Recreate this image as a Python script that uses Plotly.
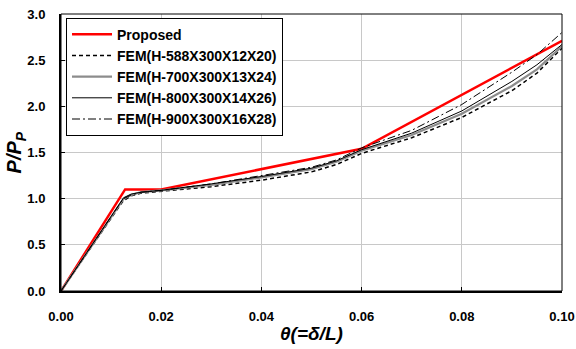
import plotly.graph_objects as go

# Data
theta = [0, 0.006, 0.0118, 0.0125, 0.014, 0.016, 0.02, 0.03, 0.04, 0.05, 0.055, 0.06,
         0.07, 0.08, 0.09, 0.095, 0.1]
prop_x = [0, 0.0128, 0.02, 0.06, 0.1]
prop_y = [0, 1.10, 1.10, 1.54, 2.71]
fem588 = [0, 0.48, 0.93, 0.98, 1.03, 1.06, 1.08, 1.13, 1.20, 1.29, 1.37, 1.49,
          1.66, 1.88, 2.17, 2.36, 2.63]
fem700 = [0, 0.48, 0.95, 1.00, 1.04, 1.07, 1.09, 1.15, 1.23, 1.32, 1.40, 1.52,
          1.69, 1.92, 2.22, 2.40, 2.65]
fem800 = [0, 0.49, 0.96, 1.01, 1.05, 1.07, 1.09, 1.16, 1.24, 1.33, 1.41, 1.53,
          1.71, 1.95, 2.27, 2.45, 2.67]
fem900 = [0, 0.49, 0.95, 1.00, 1.04, 1.07, 1.09, 1.16, 1.25, 1.34, 1.42, 1.55,
          1.74, 2.02, 2.37, 2.56, 2.80]
names = ["Proposed", "FEM(H-588X300X12X20)", "FEM(H-700X300X13X24)",
         "FEM(H-800X300X14X26)", "FEM(H-900X300X16X28)"]
x_ticks = [0, 0.02, 0.04, 0.06, 0.08, 0.10]
x_labels = ["0.00", "0.02", "0.04", "0.06", "0.08", "0.10"]
y_ticks = [0, 0.5, 1.0, 1.5, 2.0, 2.5, 3.0]
y_labels = ["0.0", "0.5", "1.0", "1.5", "2.0", "2.5", "3.0"]
x_title = "<b><i>θ(=δ/L)</i></b>"
y_title = "<b><i>P/P<sub>P</sub></i></b>"

fig = go.Figure()
fig.add_trace(go.Scatter(x=prop_x, y=prop_y, mode="lines", name=names[0],
                         line=dict(color="#ff0000", width=2.5)))
fig.add_trace(go.Scatter(x=theta, y=fem588, mode="lines", name=names[1],
                         line=dict(color="black", width=1.5, dash="4px,3px")))
fig.add_trace(go.Scatter(x=theta, y=fem700, mode="lines", name=names[2],
                         line=dict(color="#8c8c8c", width=2.2)))
fig.add_trace(go.Scatter(x=theta, y=fem800, mode="lines", name=names[3],
                         line=dict(color="black", width=1)))
fig.add_trace(go.Scatter(x=theta, y=fem900, mode="lines", name=names[4],
                         line=dict(color="black", width=1, dash="8px,3px,2px,3px")))

fig.update_layout(
    width=576, height=349,
    margin=dict(l=61, r=14, t=14, b=58, autoexpand=False),
    paper_bgcolor="white", plot_bgcolor="white",
    font=dict(family="Liberation Sans, Arial", size=13, color="black"),
    legend=dict(x=0.01, y=0.987, xanchor="left", yanchor="top",
                bgcolor="white", bordercolor="black", borderwidth=1,
                font=dict(size=14, family="Liberation Sans, Arial", weight="bold"),
                tracegroupgap=0, itemwidth=40),
    xaxis=dict(range=[0, 0.1], tickvals=x_ticks, ticktext=x_labels,
               showgrid=True, gridcolor="#c8c8c8", gridwidth=1,
               showline=True, linecolor="black", linewidth=2,
               ticks="inside", ticklen=4, tickcolor="black", zeroline=False,
               tickfont=dict(size=13, weight="bold"), ticklabelstandoff=12,
               automargin=False),
    yaxis=dict(range=[0, 3.0], tickvals=y_ticks, ticktext=y_labels,
               showgrid=True, gridcolor="#c8c8c8", gridwidth=1,
               showline=True, linecolor="black", linewidth=2,
               ticks="inside", ticklen=4, tickcolor="black", zeroline=False,
               tickfont=dict(size=13, weight="bold"), ticklabelstandoff=11,
               automargin=False),
    showlegend=True,
)
fig.add_annotation(text=x_title, xref="paper", yref="paper", x=0.5, y=-0.152,
                   xanchor="center", yanchor="middle", showarrow=False,
                   font=dict(size=19, family="Liberation Sans, Arial"))
fig.add_annotation(text=y_title, xref="paper", yref="paper", x=-0.09, y=0.5,
                   xanchor="center", yanchor="middle", showarrow=False, textangle=-90,
                   font=dict(size=20, family="Liberation Sans, Arial"))
fig.add_shape(type="rect", xref="paper", yref="paper", x0=0, y0=0, x1=1, y1=1,
              line=dict(color="black", width=1), layer="above")

fig.write_html("out.html")
